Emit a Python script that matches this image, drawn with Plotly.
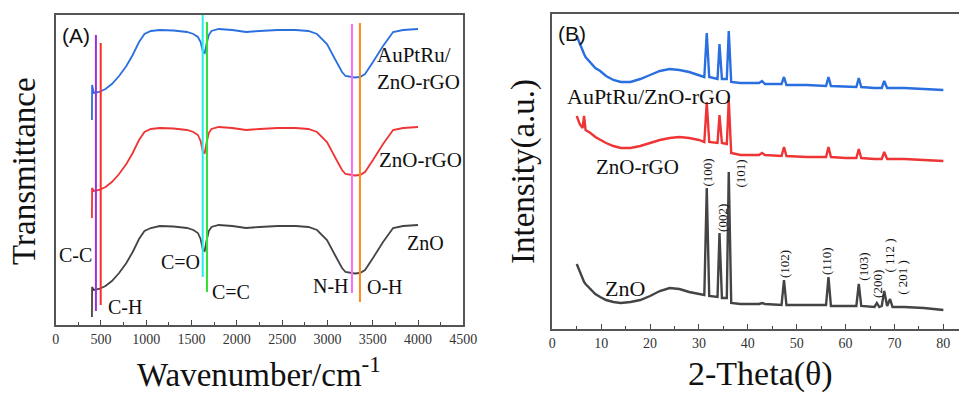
import plotly.graph_objects as go

# ---------------- FTIR (panel A) ----------------
wavenumber = [400, 402, 420, 480, 550, 620, 700, 780, 850, 920, 980, 1050, 1150, 1300,
              1450, 1520, 1570, 1600, 1625, 1645, 1665, 1690, 1720, 1800, 1950, 2100,
              2250, 2450, 2650, 2790, 2885, 2995, 3083, 3161, 3200, 3250, 3300, 3360,
              3415, 3503, 3614, 3725, 3835, 4000]

ftir_auptru = [205, 240, 232, 233, 236, 241, 249, 259, 270, 283, 291, 294, 295, 294.5,
               293, 291, 288, 283, 273, 272, 281, 290, 294, 296, 295, 293,
               294, 295, 295, 294, 291, 281, 266, 253, 249, 248, 247.5, 248,
               251, 263, 279, 293, 295, 296]

ftir_zno_rgo = [107, 137, 134, 135, 138, 143, 151, 161, 172, 185, 193, 196, 197, 196.5,
                195, 193, 190, 184, 173, 172, 182, 192, 196, 198, 197, 195,
                196, 197, 197, 196, 193, 183, 168, 155, 151, 150, 149.5, 150,
                153, 165, 181, 195, 197, 198]

ftir_zno = [8, 38, 35, 36, 39, 44, 52, 62, 73, 86, 94, 97, 99, 98.5,
            97, 95, 92, 86, 75, 74, 84, 94, 98, 100, 99, 97,
            98, 99, 99, 98, 95, 85, 70, 57, 53, 52, 51.5, 52,
            55, 67, 83, 97, 99, 100]

band_names = ["C-C", "C-H", "C=O", "C=C", "N-H", "O-H"]
band_wn = [444, 497, 1623, 1670, 3271, 3359]

# ---------------- XRD (panel B) ----------------
two_theta = [5.0, 5.6, 6.2, 6.5, 6.8, 7.8, 8.8, 9.8, 11.0, 12.5, 14.0, 16.0, 18.0, 20.0,
             22.0, 24.0, 26.0, 28.0, 30.0, 31.1, 31.6, 32.1, 33.8, 34.2, 34.7, 35.7,
             36.1, 36.6, 38.5, 42.3, 42.9, 43.5, 46.9, 47.4, 47.9, 52.0, 56.0, 56.5,
             57.0, 60.0, 62.2, 62.7, 63.2, 65.9, 66.4, 66.9, 67.4, 67.9, 68.5, 69.1,
             69.6, 72.0, 76.0, 80.0]

xrd_auptru = [293, 285, 278, 275, 272, 266, 261, 258, 253, 249, 247, 247, 250, 254,
              258, 260, 259, 257, 254, 252, 296, 252, 250, 285, 250, 250,
              298, 247, 246, 246, 248, 245, 245, 252, 244, 244, 243, 252,
              243, 242, 242, 251, 242, 241, 241, 241, 241, 248, 241, 241,
              241, 241, 240, 239]

xrd_zno_rgo = [213, 205, 201, 213, 199, 196, 192, 189, 186, 183, 181, 181, 183, 186,
               189, 191, 192, 191, 189, 187, 227, 187, 186, 214, 186, 185,
               229, 176, 174, 174, 176, 174, 173, 182, 173, 172, 172, 182,
               172, 171, 171, 180, 171, 170, 170, 170, 170, 177, 170, 170,
               170, 170, 169, 168]

xrd_zno = [65, 57, 50, 47, 45, 40, 35, 32, 29, 27, 26, 27, 29, 33,
           38, 41, 40, 37, 35, 34, 141, 33, 32, 96, 31, 31,
           157, 26, 25, 25, 26, 25, 24, 49, 24, 24, 24, 52,
           23, 23, 23, 45, 23, 22, 26, 22, 23, 38, 23, 30,
           22, 22, 21, 19]

hkl_labels = ["(100)", "(002)", "(101)", "(102)", "(110)", "(103)", "(200)", "( 112 )", "( 201 )"]

# ---------------- styling ----------------
W, H = 959, 395
SERIF = "Liberation Serif"
BLUE, RED, BLACK = "#2a6fe0", "#ee3434", "#444444"
band_colors = ["#9f2fdc", "#ff2a2a", "#22eeee", "#33dd33", "#ff6bff", "#ff8a1c"]
band_y_extent = [(14, 290), (20, 282), (48, 310), (33, 303), (32, 301), (23, 302)]


def px(x):
    return x / W


def py(y):
    return 1 - y / H


fig = go.Figure()

for ys, col in [(ftir_auptru, BLUE), (ftir_zno_rgo, RED), (ftir_zno, BLACK)]:
    fig.add_trace(go.Scatter(x=wavenumber, y=ys, mode="lines", xaxis="x", yaxis="y",
                             line=dict(color=col, width=1.8), showlegend=False, hoverinfo="skip"))

for wn, col, (y0, y1) in zip(band_wn, band_colors, band_y_extent):
    fig.add_trace(go.Scatter(x=[wn, wn], y=[y0, y1], mode="lines", xaxis="x", yaxis="y",
                             line=dict(color=col, width=2), showlegend=False, hoverinfo="skip"))

for ys, col in [(xrd_auptru, BLUE), (xrd_zno_rgo, RED), (xrd_zno, BLACK)]:
    fig.add_trace(go.Scatter(x=two_theta, y=ys, mode="lines", xaxis="x2", yaxis="y2",
                             line=dict(color=col, width=2.4), showlegend=False, hoverinfo="skip"))

annotations = []


def text(x, y, s, size, xref="x", yref="y", angle=0, xanchor="center", yanchor="middle",
         align="center", family=SERIF, color="#111111"):
    annotations.append(dict(x=x, y=y, xref=xref, yref=yref, text=s, showarrow=False,
                            font=dict(family=family, size=size, color=color),
                            textangle=angle, xanchor=xanchor, yanchor=yanchor, align=align))


# band labels in panel A
band_label_pos = [(219, 70), (765, 18), (1378, 63), (1935, 33), (3034, 39), (3635, 38)]
for name, (x, y) in zip(band_names, band_label_pos):
    text(x, y, name, 20)

text(3525, 257, "AuPtRu/<br>ZnO-rGO", 21, xanchor="left", align="left")
text(4022, 165, "ZnO-rGO", 21)
text(4088, 82, "ZnO", 20)

# sample labels in panel B
text(19.8, 232, "AuPtRu/ZnO-rGO", 22, xref="x2", yref="y2")
text(17.4, 162, "ZnO-rGO", 21, xref="x2", yref="y2")
text(14.9, 41, "ZnO", 22, xref="x2", yref="y2")

hkl_pos = [(31.55, 156), (34.7, 111), (38.3, 155), (47.4, 65), (56.0, 68), (63.5, 62),
           (66.4, 45), (68.8, 73), (71.5, 52)]
for lab, (x, y) in zip(hkl_labels, hkl_pos):
    text(x, y, lab, 13, xref="x2", yref="y2", angle=-90)

# panel tags
text(px(76), py(35), "(A)", 21, xref="paper", yref="paper", family="Liberation Sans")
text(px(572), py(33), "(B)", 21, xref="paper", yref="paper", family="Liberation Sans")

# axis titles (bottom ones anchored to the lower paper edge)
text(px(259), 0.0, "Wavenumber/cm<sup>-1</sup>", 33, xref="paper", yref="paper", yanchor="bottom")
text(px(760), 0.0, "2-Theta(θ)", 34, xref="paper", yref="paper", yanchor="bottom")
text(px(24), py(171), "Transmittance", 33, xref="paper", yref="paper", angle=-90)
text(px(523), py(172), "Intensity(a.u.)", 33, xref="paper", yref="paper", angle=-90)

axis_common = dict(showgrid=False, zeroline=False, showline=True, linecolor="#555555",
                   linewidth=1.5, ticks="inside", ticklen=5, tickwidth=1.2, tickcolor="#444444",
                   tickfont=dict(family=SERIF, size=14, color="#333333"), automargin=False)
yaxis_common = dict(showgrid=False, zeroline=False, showline=True, linecolor="#555555",
                    linewidth=1.5, showticklabels=False, ticks="", automargin=False)

fig.update_layout(
    width=W, height=H, margin=dict(l=0, r=0, t=0, b=0, pad=0), autosize=False,
    paper_bgcolor="white", plot_bgcolor="white",
    xaxis=dict(domain=[px(55.7), px(463.3)], range=[0, 4500], dtick=500, mirror=True,
               minor=dict(ticks="inside", ticklen=3, dtick=250, tickcolor="#444444"),
               anchor="y", **axis_common),
    yaxis=dict(domain=[py(325), py(15)], range=[0, 310], mirror=True, anchor="x", **yaxis_common),
    xaxis2=dict(domain=[px(552.3), 1.0], range=[0, 83.2], dtick=10, mirror=True,
                minor=dict(ticks="inside", ticklen=3, dtick=5, tickcolor="#444444"),
                anchor="y2", **axis_common),
    yaxis2=dict(domain=[py(329), py(14)], range=[0, 315], mirror=False, anchor="x2", **yaxis_common),
    annotations=annotations,
)

fig.write_html("out.html")
